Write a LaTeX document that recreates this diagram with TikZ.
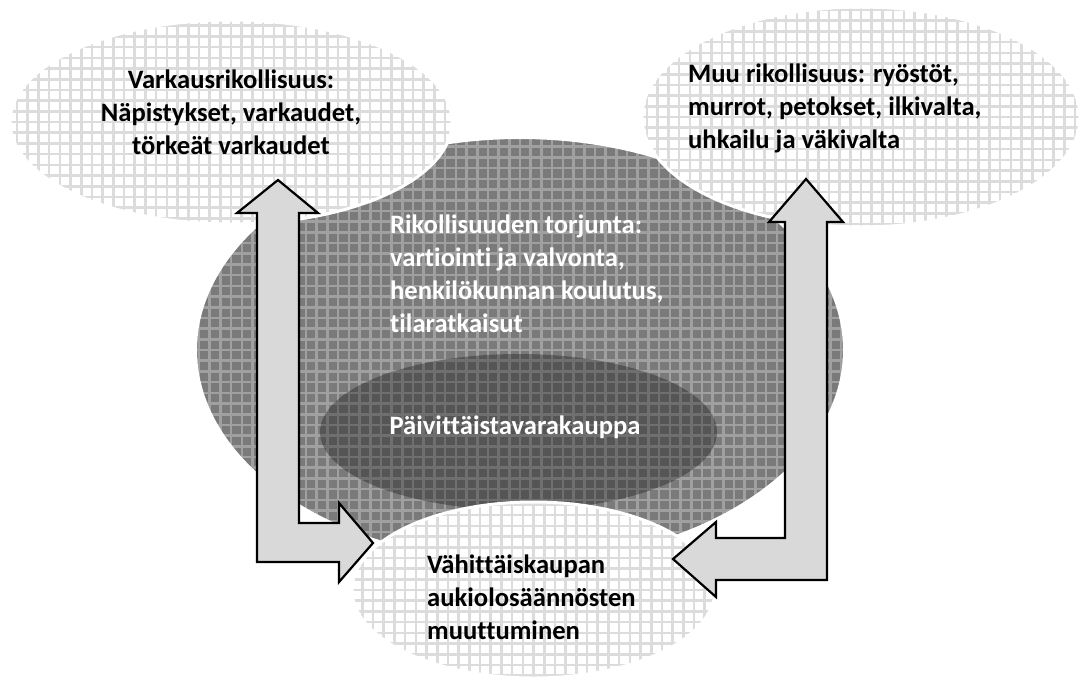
\documentclass[tikz,border=0pt]{standalone}
\usepackage{fontspec}
\setmainfont{Carlito}[Ligatures={NoCommon,NoContextual}]
\usetikzlibrary{shapes.geometric}
\definecolor{lightline}{HTML}{DCDCDC}
\definecolor{darkbase}{HTML}{7A7A7A}
\definecolor{darkline}{HTML}{A0A0A0}
\definecolor{arrowfill}{HTML}{D9D9D9}
\tikzset{
  lightell/.style={ellipse, inner sep=0pt, draw=white, line width=3pt, fill=white,
    path picture={\draw[lightline, line width=2.6pt, step=10.7pt]
      (path picture bounding box.south west) grid (path picture bounding box.north east);}},
  darkell/.style={ellipse, inner sep=0pt, draw=white, line width=2pt, fill=darkbase,
    path picture={\draw[darkline, line width=2.6pt, step=10.7pt]
      (path picture bounding box.south west) grid (path picture bounding box.north east);}},
  innerell/.style={ellipse, inner sep=0pt, fill=black, fill opacity=0.3, draw=none},
  label/.style={inner sep=0pt, text=black},
  whitelabel/.style={inner sep=0pt, text=white},
  blockarrow/.style={draw=black, line width=2.2pt, fill=arrowfill, line join=miter}
}
\begin{document}
\begin{tikzpicture}[x=1pt, y=-1pt, font=\fontsize{26.6}{33}\selectfont\bfseries]
\useasboundingbox (0,0) rectangle (1081,689);
\fill[white] (0,0) rectangle (1081,689);

% big crime prevention ellipse
\node[darkell, minimum width=648pt, minimum height=424pt] (crime) at (520,350) {};
% grocery store ellipse
\node[innerell, minimum width=397pt, minimum height=156pt] (store) at (518.5,432) {};
% top and bottom ellipses
\node[lightell, minimum width=442pt, minimum height=204pt] (theft) at (231,122) {};
\node[lightell, minimum width=438pt, minimum height=220pt] (other) at (861,117) {};
\node[lightell, minimum width=363pt, minimum height=176pt] (hours) at (533.5,590) {};

% texts
\node[label, align=center] (theftT) at (231,112)
  {Varkausrikollisuus:\\Näpistykset, varkaudet,\\törkeät varkaudet};
\node[label, align=left, anchor=west] (otherT) at (688,108)
  {Muu rikollisuus: ryöstöt,\\murrot, petokset, ilkivalta,\\uhkailu ja väkivalta};
\node[whitelabel, align=left, anchor=west] (crimeT) at (390,274)
  {Rikollisuuden torjunta:\\vartiointi ja valvonta,\\henkilökunnan koulutus,\\tilaratkaisut};
\node[whitelabel] (storeT) at (515,427) {Päivittäistavarakauppa};
\node[label, align=left, anchor=west] (hoursT) at (427,597)
  {Vähittäiskaupan\\aukiolosäännösten\\muuttuminen};

% left L-shaped block arrow (hours -> theft)
\draw[blockarrow] (278,180) -- (318,213) -- (299,213) -- (299,523) -- (339,523)
  -- (339,503) -- (373,543) -- (339,582) -- (339,562) -- (257,562) -- (257,213)
  -- (237,213) -- cycle;
% right L-shaped block arrow (other <-> hours)
\draw[blockarrow] (806,179) -- (843,222) -- (827,222) -- (827,580) -- (716,580)
  -- (716,597) -- (673,559) -- (716,522) -- (716,538) -- (785,538) -- (785,222)
  -- (769,222) -- cycle;
\end{tikzpicture}
\end{document}
